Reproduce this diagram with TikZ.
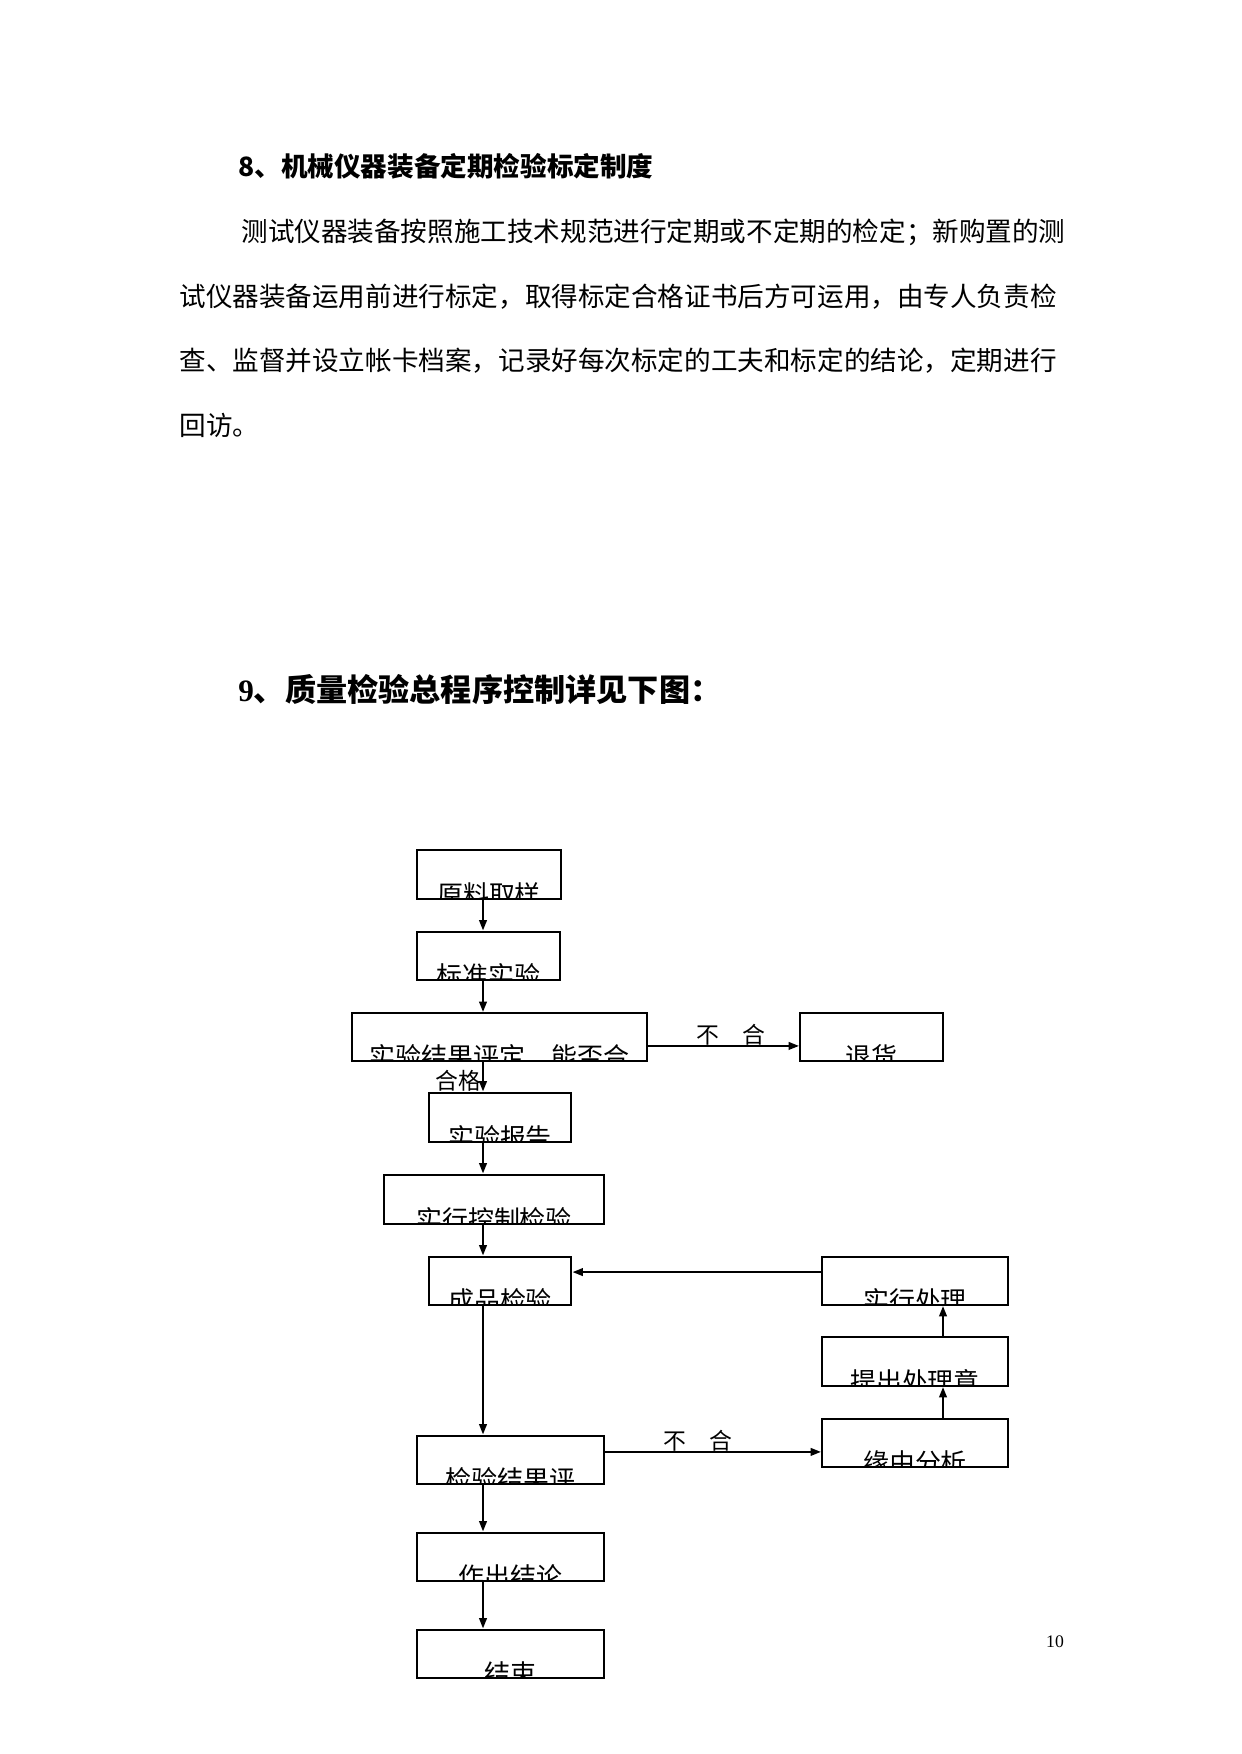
\documentclass[tikz,border=0pt]{standalone}
\usepackage{fontspec}
\setmainfont{Liberation Serif}
\newfontfamily\cjk{Noto Sans CJK SC}
\usepackage{tikz}
\usetikzlibrary{arrows.meta,positioning}
\newcommand{\pxu}{0.4815pt}
\tikzset{
  sz/.style 2 args={minimum width=#1*\pxu, minimum height=#2*\pxu},
  flowbox/.style={draw, line width=1.4pt, inner sep=0pt,
    path picture={
      \node[boxtext, anchor=base] at ([yshift=-2.6pt]path picture bounding box.south) {#1};
    }},
  thinbox/.style={flowbox={#1}, line width=0.9pt},
  boxtext/.style={font=\cjk\fontsize{12.5pt}{12.5pt}\selectfont, inner sep=0pt},
  bodytext/.style={font=\cjk\fontsize{12.8pt}{12.8pt}\selectfont, inner sep=0pt, anchor=west},
  lbl/.style={font=\cjk\fontsize{11pt}{11pt}\selectfont, inner sep=0pt},
  flow/.style={-{Triangle[length=5pt,width=3.6pt]}, line width=1.05pt},
}

\begin{document}
\begin{tikzpicture}[x=0.016922cm, y=-0.016922cm]
  \useasboundingbox (0,0) rectangle (1241,1754);
  % text above the chart
  \node[bodytext, font=\cjk\bfseries\fontsize{12.8pt}{12.8pt}\selectfont] (h8) at (238,166) {8、机械仪器装备定期检验标定制度};
  \node[bodytext] (p1) at (241,232) {测试仪器装备按照施工技术规范进行定期或不定期的检定；新购置的测};
  \node[bodytext] (p2) at (179,297) {试仪器装备运用前进行标定，取得标定合格证书后方可运用，由专人负责检};
  \node[bodytext] (p3) at (179,361) {查、监督并设立帐卡档案，记录好每次标定的工夫和标定的结论，定期进行};
  \node[bodytext] (p4) at (179,425) {回访。};
  \node[bodytext, font=\bfseries\fontsize{15pt}{15pt}\selectfont] (h9) at (238,690) {9{\cjk 、质量检验总程序控制详见下图：}};
  \node[font=\fontsize{8.5pt}{8.5pt}\selectfont, inner sep=0pt] (pg) at (1055,1642) {10};

  % flow chart
  \coordinate (spine) at (483,0);
  \coordinate (rspine) at (943,0);
  \node[flowbox={原料取样}, sz={144}{49}] (yl) at (489,874.5) {};
  \node[flowbox={标准实验}, sz={143}{48}] (bz) at (488.5,956) {};
  \node[thinbox={实验结果评定　能否合}, sz={295}{48}] (jg) at (499.5,1037) {};
  \node[thinbox={退货}, sz={143}{48}] (th) at (871.5,1037) {};
  \node[flowbox={实验报告}, sz={142}{49}] (bg) at (500,1117.5) {};
  \node[flowbox={实行控制检验}, sz={220}{49}] (sk) at (494,1199.5) {};
  \node[flowbox={成品检验}, sz={142}{48}] (cp) at (500,1281) {};
  \node[thinbox={实行处理}, sz={186}{48}] (sx) at (915,1281) {};
  \node[thinbox={提出处理意}, sz={186}{49}] (ty) at (915,1361.5) {};
  \node[thinbox={缘由分析}, sz={186}{48}] (yy) at (915,1443) {};
  \node[flowbox={检验结果评}, sz={187}{48}] (jy) at (510.5,1460) {};
  \node[flowbox={作出结论}, sz={187}{48}] (zc) at (510.5,1557) {};
  \node[flowbox={结束}, sz={187}{48}] (js) at (510.5,1654) {};

  \foreach \a/\b in {yl/bz, bz/jg, jg/bg, bg/sk, sk/cp, cp/jy, jy/zc, zc/js}
    \draw[flow] (\a.south -| spine) -- (\b.north -| spine);
  \node[lbl] (hg) at (458,1081) {合格};

  \draw[flow] ([yshift=-4.3pt]jg.east) -- node[lbl, pos=0.55, anchor=base, yshift=1pt] {不　合} ([yshift=-4.3pt]th.west);
  \draw[flow] ([yshift=3.9pt]jy.east) -- node[lbl, pos=0.43, anchor=base, yshift=1pt] {不　合} ([yshift=3.9pt]jy.east -| yy.west);
  \draw[flow] (yy.north -| rspine) -- (ty.south -| rspine);
  \draw[flow] (ty.north -| rspine) -- (sx.south -| rspine);
  \draw[flow] ([yshift=4.3pt]sx.west) -- ([yshift=4.3pt]cp.east);
\end{tikzpicture}
\end{document}
